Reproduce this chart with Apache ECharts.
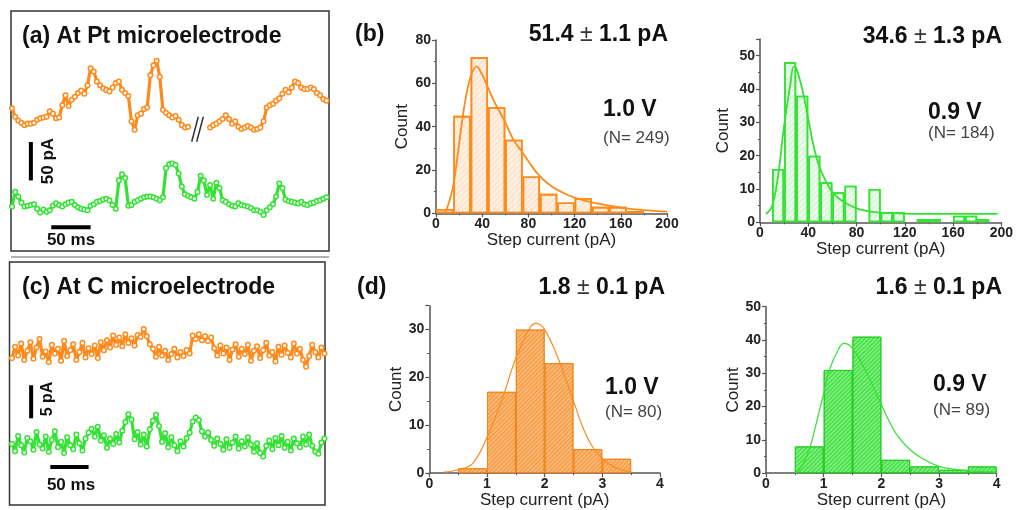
<!DOCTYPE html>
<html>
<head>
<meta charset="utf-8">
<script src="https://cdn.jsdelivr.net/npm/echarts@6/dist/echarts.min.js"></script>
<style>
  html, body { margin: 0; padding: 0; background: #fff; }
  #chart { width: 1016px; height: 510px; }
</style>
</head>
<body>
<div id="chart"></div>
<script>
// ---- current traces (pA, display offset included), sampled every 4 ms ----
const SAMPLE_MS = 4;

// Pt microelectrode, 1.0 V (trace is split by a time break)
const ptOrangeStartA = 0;
const ptOrangeA = [144,133,128,125,122,124,124,125,129,131,132,133,140,137,131,132,148,161,147,155,
  159,164,167,163,174,196,192,179,174,170,168,166,171,177,179,168,164,160,127,116,
  135,137,143,145,187,200,206,185,142,138,135,132,134,129,122,119,120];
const ptOrangeStartB = 252;
const ptOrangeB = [119,122,124,127,130,135,130,124,127,120,117,119,121,119,116,117,119,127,145,148,
  150,154,157,163,168,165,171,179,177,171,169,169,171,169,164,161,156,154];

// Pt microelectrode, 0.9 V
const ptGreen = [16,35,29,21,16,17,18,19,13,8, 12,9,11,17,20,18,16,19,21,22,
  18,15,13,12,11,17,19,22,23,25, 26,24,18,13,50,58,53,17,18,22,
  24,26,28,29,29,28,26,24,28,66, 71,72,70,59,42,32,30,28,26,35,
  56,50,31,44,26,47,40,24,22,19, 17,16,20,18,17,16,14,11,11,9,
  5,11,15,19,29,46,40,25,23,22, 21,20,22,19,18,20,21,23,24,26,28];

// C microelectrode, 1.0 V
const cOrange = [17.2,18.9,17.6,19.4,16.9,18.3,19.6,17.1,18.8,20.1,
  17.4,18.2,16.6,19.2,17.9,18.6,16.8,19.8,17.5,18.4,
  19.3,16.9,18.1,19.5,17.3,18.7,17.8,19.1,17.2,19.6,
  18.4,19.9,18.8,20.6,19.2,20.3,19.0,20.8,19.5,20.2,
  19.1,20.7,20.4,21.6,20.5,19.3,18.6,17.4,18.9,17.6,
  18.3,16.9,17.8,18.6,17.3,18.1,17.5,18.4,17.9,20.6,
  20.1,20.8,19.9,20.5,19.8,20.3,18.7,17.6,19.1,17.9,
  18.8,16.9,18.5,19.3,17.4,18.6,17.8,19.2,16.8,18.3,
  19.0,17.2,18.4,19.5,17.6,18.1,16.7,18.9,17.7,19.1,
  18.0,17.3,19.4,17.9,18.6,16.9,15.9,17.5,19.2,18.1,
  17.3,18.8,17.9];

// C microelectrode, 0.9 V
const cGreen = [4.2,3.1,5.4,4.0,2.9,5.1,4.6,3.3,6.0,4.1,
  3.5,5.3,3.0,4.8,6.1,3.7,4.5,2.8,5.2,4.0,
  3.4,5.6,4.3,3.2,5.0,5.9,6.5,5.3,6.8,4.7,
  5.5,3.6,5.0,4.2,5.7,4.4,6.2,7.5,8.7,7.9,
  4.9,6.0,4.1,5.6,3.8,6.4,7.7,8.6,6.9,4.5,
  5.8,3.7,5.2,4.0,3.1,4.6,3.8,5.1,5.9,7.6,
  8.2,7.8,6.1,5.3,5.9,4.8,3.9,5.0,4.2,3.3,
  4.9,3.6,4.4,5.3,3.5,4.6,3.8,5.2,4.1,3.0,
  4.3,2.8,2.3,3.9,4.7,3.4,5.1,4.0,5.4,3.6,
  4.5,3.2,5.0,4.3,3.7,5.3,4.1,5.6,3.9,3.0,
  2.7,4.4,5.0];

// scale bars: [time ms, current pA] end points
const ptBarV = [[24, 50], [24, 100]];
const ptBarH = [[50, -11], [100, -11]];
const cBarV = [[25, 8.1], [25, 13.1]];
const cBarH = [[50, 0.7], [100, 0.7]];

// ---- step-current histograms ----
const pt10Start = 0, pt10Width = 15;
const pt10Counts = [2,45,72,49,34,17,9,5,7,3,3,1];
const pt10FitX = [7,10,15,20,25,30,35,40,45,50,55,60,67,75,80,90,100,110,120,135,150,165,180,200];
const pt10FitY = [0,3,13,32,51,63,67.8,64,58,52,47,42,34,28,24,17,12.5,9.5,7.2,5,3.5,2.3,1.5,0.8];

const pt09Start = 10, pt09Width = 10;
const pt09Counts = [16,48,38,20,12,9,11,0,10,3,3,0,1,1,0,2,2,1];
const pt09FitX = [5,10,15,20,25,28,30,35,40,45,50,60,70,80,90,100,120,150,197];
const pt09FitY = [2.5,4.8,14,29,41,46.7,46.2,40,31,22,16,9,6,4.2,3.3,2.9,2.6,2.5,2.5];

const c10Start = 0.5, c10Width = 0.5;
const c10Counts = [1,17,30,23,5,3];
const c10FitX = [0.25,0.5,0.75,1.0,1.25,1.5,1.75,1.85,2.0,2.25,2.5,2.75,3.0,3.25,3.5];
const c10FitY = [0.2,0.7,2,7.5,15,24,30.5,31.3,30,23.5,15,7.2,3,1,0.3];

const c09Start = 0.5, c09Width = 0.5;
const c09Counts = [8,31,41,4,2,1,2];
const c09FitX = [0.5,0.6,0.75,0.9,1.0,1.1,1.25,1.35,1.5,1.75,2.0,2.25,2.5,2.75,3.0,3.25,3.5,4.0];
const c09FitY = [0,1.5,7,17,24,31,37,39,37.5,30,20.5,12,7,4,2,1.2,0.7,0.3];

// ---- styling ----
const ORANGE = '#FF8A1C';
const GREEN = '#34E234';
const FONT = "'Liberation Sans', Arial, Helvetica, sans-serif";
const AXIS = '#555';
const LABEL = '#222';

function traceSeries(values, startMs, color, gi) {
  return {
    type: 'line', xAxisIndex: gi, yAxisIndex: gi, silent: true, z: 3,
    data: values.map((v, i) => [startMs + i * SAMPLE_MS, v]),
    symbol: 'circle', symbolSize: 4.6, showAllSymbol: true,
    lineStyle: { color: color, width: 3.2 },
    itemStyle: { color: '#fff', borderColor: color, borderWidth: 1.5 }
  };
}
function barSeries(data, gi) {
  return {
    type: 'line', xAxisIndex: gi, yAxisIndex: gi, silent: true, z: 4,
    data: data, symbol: 'none', lineStyle: { color: '#000', width: 4 }
  };
}
function histSeries(counts, start, width, gi, itemStyle) {
  const data = [];
  counts.forEach((c, i) => { if (c > 0) data.push([start + (i + 0.5) * width, c]); });
  return {
    type: 'bar', xAxisIndex: gi, yAxisIndex: gi, silent: true,
    barCategoryGap: '0%', barGap: '0%', data: data, itemStyle: itemStyle, z: 2
  };
}
function fitSeries(xs, ys, color, width, gi) {
  return {
    type: 'line', xAxisIndex: gi, yAxisIndex: gi, silent: true, z: 5,
    smooth: 0.4, symbol: 'none',
    data: xs.map((x, i) => [x, ys[i]]),
    lineStyle: { color: color, width: width }
  };
}
function hatch(color, gap) {
  return { symbol: 'rect', symbolSize: 1, dashArrayX: [1, 0], dashArrayY: [1, gap],
           rotation: -Math.PI / 4, color: color };
}

const grids = [
  { left: 12, top: 50, width: 316, height: 184.1 },      // Pt traces
  { left: 436, top: 40, width: 231, height: 173.3 },     // Pt 1.0 V hist
  { left: 760, top: 39, width: 241.7, height: 183.3 },   // Pt 0.9 V hist
  { left: 12, top: 300, width: 314, height: 171.6 },     // C traces
  { left: 429.3, top: 305.7, width: 230.7, height: 170 },// C 1.0 V hist
  { left: 766, top: 306.7, width: 230.7, height: 170.7 } // C 0.9 V hist
];

function traceX(gi, max) {
  return { gridIndex: gi, type: 'value', min: 0, max: max, show: false };
}
function traceY(gi, min, max) {
  return { gridIndex: gi, type: 'value', min: min, max: max, show: false };
}
function histX(gi, max, interval) {
  return {
    gridIndex: gi, type: 'value', min: 0, max: max, interval: interval,
    name: 'Step current (pA)', nameLocation: 'middle', nameGap: 15,
    nameTextStyle: { fontFamily: FONT, fontSize: 17, color: '#222' },
    axisLine: { lineStyle: { color: AXIS, width: 1.5 } },
    axisTick: { length: 4, lineStyle: { color: AXIS, width: 1.2 } },
    minorTick: { show: true, splitNumber: 2, length: 2, lineStyle: { color: AXIS } },
    splitLine: { show: false },
    axisLabel: { fontFamily: FONT, fontWeight: 'bold', fontSize: 14, color: LABEL, margin: 4 }
  };
}
function histY(gi, max, interval, gap) {
  return {
    gridIndex: gi, type: 'value', min: 0, max: max, interval: interval,
    name: 'Count', nameLocation: 'middle', nameGap: gap, nameRotate: 90,
    nameTextStyle: { fontFamily: FONT, fontSize: 17, color: '#222' },
    axisLine: { show: true, lineStyle: { color: AXIS, width: 1.5 } },
    axisTick: { show: true, length: 4, lineStyle: { color: AXIS, width: 1.2 } },
    minorTick: { show: true, splitNumber: 2, length: 2, lineStyle: { color: AXIS } },
    splitLine: { show: false },
    axisLabel: { fontFamily: FONT, fontWeight: 'bold', fontSize: 14, color: LABEL, margin: 5,
                 showMaxLabel: max % interval === 0 }
  };
}

function text(x, y, str, font, align, extra, fill) {
  return Object.assign({
    type: 'text', x: x, y: y, silent: true,
    style: { text: str, font: font, fill: fill || '#111', align: align || 'left', verticalAlign: 'middle' }
  }, extra || {});
}
function richTitle(xRight, y, a, b) {
  return {
    type: 'text', x: xRight, y: y, silent: true,
    style: {
      text: '{b|' + a + ' }{n|±}{b| ' + b + ' pA}',
      align: 'right', verticalAlign: 'middle', fill: '#111',
      rich: {
        b: { font: 'bold 23px ' + FONT, fill: '#111' },
        n: { font: '23px ' + FONT, fill: '#333' }
      }
    }
  };
}

const B = 'bold 23px ' + FONT;
const N = '17px ' + FONT;
const graphics = [
  // panel frames
  { type: 'rect', shape: { x: 11, y: 11, width: 318, height: 240 }, style: { fill: 'none', stroke: '#333', lineWidth: 1.5 }, silent: true },
  { type: 'line', shape: { x1: 11, y1: 257, x2: 329, y2: 257 }, style: { stroke: '#999', lineWidth: 1.5 }, silent: true },
  { type: 'rect', shape: { x: 9.5, y: 262, width: 315.5, height: 243 }, style: { fill: 'none', stroke: '#333', lineWidth: 1.5 }, silent: true },
  // time-break mark
  { type: 'line', shape: { x1: 191.7, y1: 141.7, x2: 198.3, y2: 116.7 }, style: { stroke: '#333', lineWidth: 1.5 }, silent: true },
  { type: 'line', shape: { x1: 196.7, y1: 141.7, x2: 203.3, y2: 116.7 }, style: { stroke: '#333', lineWidth: 1.5 }, silent: true },
  // panel titles
  text(22, 37, '(a) At Pt microelectrode', B),
  text(22, 288, '(c) At C microelectrode', B),
  text(355, 35, '(b)', B),
  text(357, 288, '(d)', B),
  // scale bar labels
  text(48, 161, '50 pA', 'bold 17px ' + FONT, 'center', { rotation: Math.PI / 2 }),
  text(71, 240, '50 ms', 'bold 17px ' + FONT, 'center'),
  text(48, 399, '5 pA', 'bold 16px ' + FONT, 'center', { rotation: Math.PI / 2 }),
  text(71, 485, '50 ms', 'bold 17px ' + FONT, 'center'),
  // histogram annotations
  richTitle(668, 35, '51.4', '1.1'),
  richTitle(1002, 37, '34.6', '1.3'),
  richTitle(665, 288, '1.8', '0.1'),
  richTitle(1002, 288, '1.6', '0.1'),
  text(603, 110, '1.0 V', B),
  text(603, 138, '(N= 249)', N, 'left', null, '#444'),
  text(928, 113, '0.9 V', B),
  text(928, 133, '(N= 184)', N, 'left', null, '#444'),
  text(605, 388, '1.0 V', B),
  text(605, 412, '(N= 80)', N, 'left', null, '#444'),
  text(933, 385, '0.9 V', B),
  text(933, 410, '(N= 89)', N, 'left', null, '#444')
];

const option = {
  animation: false,
  backgroundColor: '#fff',
  grid: grids,
  xAxis: [
    traceX(0, 402),
    histX(1, 200, 40),
    histX(2, 200, 40),
    traceX(3, 410),
    histX(4, 4, 1),
    histX(5, 4, 1)
  ],
  yAxis: [
    traceY(0, -20, 220),
    histY(1, 80, 20, 25),
    histY(2, 55, 10, 28),
    traceY(3, 0, 26),
    histY(4, 35, 10, 24),
    histY(5, 50, 10, 24)
  ],
  series: [
    traceSeries(ptOrangeA, ptOrangeStartA, ORANGE, 0),
    traceSeries(ptOrangeB, ptOrangeStartB, ORANGE, 0),
    traceSeries(ptGreen, 0, GREEN, 0),
    barSeries(ptBarV, 0),
    barSeries(ptBarH, 0),
    traceSeries(cOrange, 0, ORANGE, 3),
    traceSeries(cGreen, 0, GREEN, 3),
    barSeries(cBarV, 3),
    barSeries(cBarH, 3),

    histSeries(pt10Counts, pt10Start, pt10Width, 1,
      { color: '#FEF0E3', borderColor: ORANGE, borderWidth: 1.6, decal: hatch('rgba(255,150,60,0.22)', 3) }),
    fitSeries(pt10FitX, pt10FitY, ORANGE, 1.8, 1),

    histSeries(pt09Counts, pt09Start, pt09Width, 2,
      { color: '#EEFCEE', borderColor: GREEN, borderWidth: 1.6, decal: hatch('rgba(60,220,60,0.22)', 3) }),
    fitSeries(pt09FitX, pt09FitY, GREEN, 1.8, 2),

    histSeries(c10Counts, c10Start, c10Width, 4,
      { color: '#F6A04C', borderColor: '#F0851A', borderWidth: 1, decal: hatch('rgba(255,225,190,0.55)', 2) }),
    fitSeries(c10FitX, c10FitY, ORANGE, 1.2, 4),

    histSeries(c09Counts, c09Start, c09Width, 5,
      { color: '#4CE24C', borderColor: '#22CC22', borderWidth: 1, decal: hatch('rgba(210,255,210,0.55)', 2) }),
    fitSeries(c09FitX, c09FitY, GREEN, 1.2, 5)
  ],
  graphic: graphics
};

const chart = echarts.init(document.getElementById('chart'), null, { renderer: 'canvas' });
chart.setOption(option);
</script>
</body>
</html>
